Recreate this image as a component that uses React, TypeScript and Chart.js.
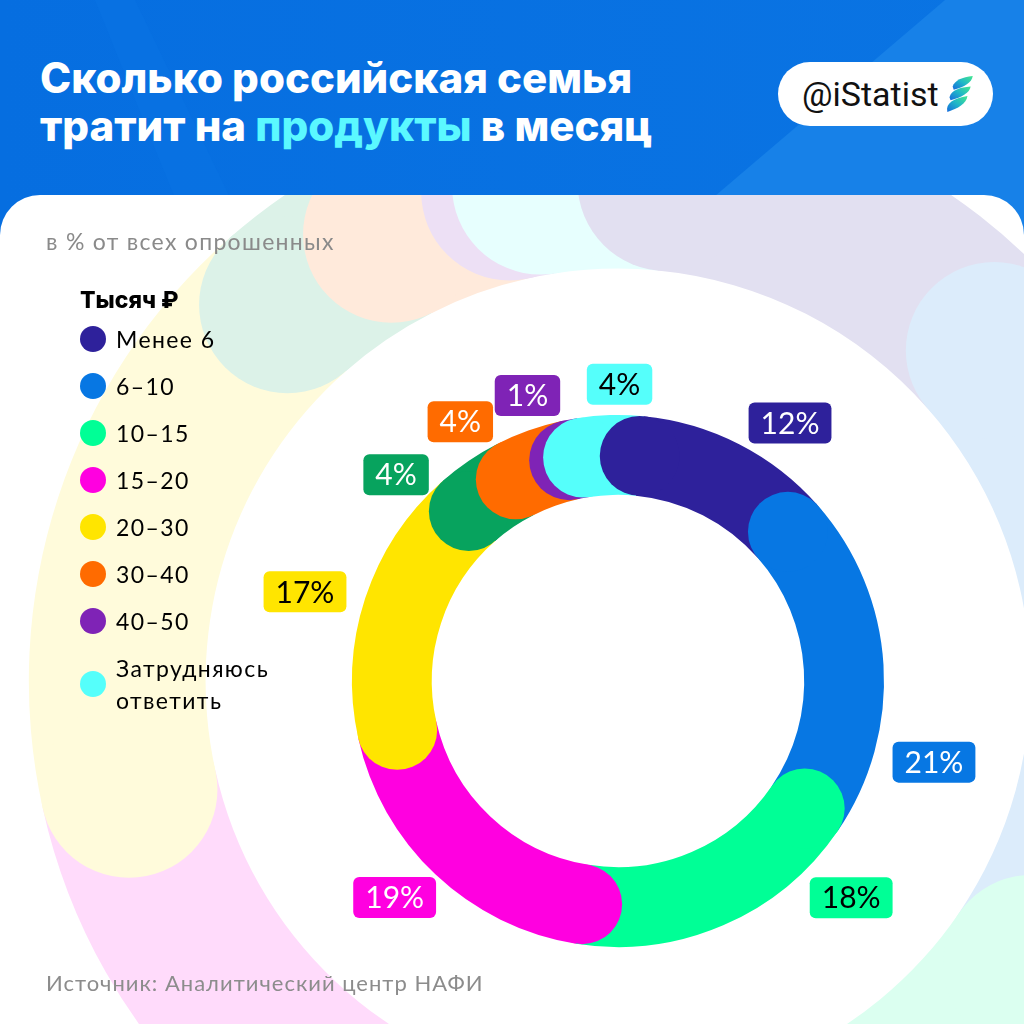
import React, { useEffect, useRef } from 'react';
import { Chart, registerables } from 'chart.js';

Chart.register(...registerables);

// ---- data ----
const CATEGORIES = ['Менее 6', '6–10', '10–15', '15–20', '20–30', 'Более 50', '30–40', '40–50', 'Затрудняюсь ответить'];
const VALUES = [12, 21, 18, 19, 17, 4, 4, 1, 4];
const LEGEND_VISIBLE = [true, true, true, true, true, false, true, true, true];
const LEGEND_TITLE = 'Тысяч ₽';

// ---- styles ----
const COLORS = ['#2E219B', '#0777E3', '#00FF96', '#FF00E0', '#FFE500', '#07A35E', '#FF6B00', '#7F23B6', '#55FFFB'];
const LABEL_TEXT_COLORS = ['#ffffff', '#ffffff', '#000000', '#ffffff', '#000000', '#ffffff', '#ffffff', '#ffffff', '#000000'];
const LABEL_ANGLE_NUDGE = [6.6, 17.9, -23.8, 2.6, -2.2, -13, -11.6, -6.9, 2.0];
const LABEL_GAP = [4, 15, 8, 1, 14, -1, 3, 4, 10];
const BG_RING_SCALE = 2.215;
const BG_TINT = 0.14;
const CARD_TOP = 195;

const LABEL_FONT = '400 30px Lato';
const BODY_FONT = 'Lato, "Noto Sans", sans-serif';

function tint(hex: string, a: number) {
  const n = parseInt(hex.slice(1), 16);
  const r = (n >> 16) & 255, g = (n >> 8) & 255, b = n & 255;
  const m = (c: number) => Math.round(255 - a * (255 - c));
  return `rgb(${m(r)},${m(g)},${m(b)})`;
}

function getArcs(chart: any) {
  const meta = chart.getDatasetMeta(0);
  return meta.data.map((el: any) =>
    el.getProps(['x', 'y', 'startAngle', 'endAngle', 'innerRadius', 'outerRadius'], true)
  );
}

function capOrder(n: number) {
  const order: number[] = [];
  for (let i = 1; i < n; i++) order.push(i);
  order.push(0);
  return order;
}

function drawCaps(ctx: CanvasRenderingContext2D, arcs: any[], scale: number, color: (i: number) => string) {
  capOrder(arcs.length).forEach((i) => {
    const a = arcs[i];
    const inner = a.innerRadius * scale;
    const outer = a.outerRadius * scale;
    const mid = (inner + outer) / 2;
    const rad = (outer - inner) / 2;
    ctx.beginPath();
    ctx.arc(a.x + Math.cos(a.startAngle) * mid, a.y + Math.sin(a.startAngle) * mid, rad, 0, Math.PI * 2);
    ctx.fillStyle = color(i);
    ctx.fill();
  });
}

const bgRingPlugin = {
  id: 'bgRing',
  beforeDatasetsDraw(chart: any) {
    const ctx: CanvasRenderingContext2D = chart.ctx;
    const arcs = getArcs(chart);
    ctx.save();
    ctx.beginPath();
    (ctx as any).roundRect(0, CARD_TOP, chart.width, chart.height - CARD_TOP + 60, [40, 40, 0, 0]);
    ctx.clip();
    const col = (i: number) => tint(COLORS[i], BG_TINT);
    arcs.forEach((a: any, i: number) => {
      const inner = a.innerRadius * BG_RING_SCALE;
      const outer = a.outerRadius * BG_RING_SCALE;
      ctx.beginPath();
      ctx.arc(a.x, a.y, outer, a.startAngle, a.endAngle);
      ctx.arc(a.x, a.y, inner, a.endAngle, a.startAngle, true);
      ctx.closePath();
      ctx.fillStyle = col(i);
      ctx.fill();
    });
    drawCaps(ctx, arcs, BG_RING_SCALE, col);
    ctx.restore();
  },
};

const capsPlugin = {
  id: 'roundCaps',
  afterDatasetsDraw(chart: any) {
    const ctx: CanvasRenderingContext2D = chart.ctx;
    const arcs = getArcs(chart);
    ctx.save();
    drawCaps(ctx, arcs, 1, (i) => COLORS[i]);
    ctx.restore();
  },
};

const labelsPlugin = {
  id: 'boxLabels',
  afterDraw(chart: any) {
    const ctx: CanvasRenderingContext2D = chart.ctx;
    const arcs = getArcs(chart);
    const values = chart.data.datasets[0].data as number[];
    ctx.save();
    ctx.font = LABEL_FONT;
    ctx.textAlign = 'center';
    ctx.textBaseline = 'middle';
    arcs.forEach((a: any, i: number) => {
      const text = `${values[i]}%`;
      const ang = (a.startAngle + a.endAngle) / 2 + (LABEL_ANGLE_NUDGE[i] * Math.PI) / 180;
      const ux = Math.cos(ang), uy = Math.sin(ang);
      const tw = ctx.measureText(text).width;
      const hw = tw / 2 + 12;
      const hh = 20.5;
      const d = a.outerRadius + LABEL_GAP[i] + Math.abs(ux) * hw + Math.abs(uy) * hh;
      const cx = a.x + ux * d;
      const cy = a.y + uy * d;
      ctx.beginPath();
      (ctx as any).roundRect(cx - hw, cy - hh, hw * 2, hh * 2, 6);
      ctx.fillStyle = COLORS[i];
      ctx.fill();
      ctx.fillStyle = LABEL_TEXT_COLORS[i];
      ctx.fillText(text, cx, cy + 1);
    });
    ctx.restore();
  },
};

function Logo() {
  return (
    <svg width="30" height="36" viewBox="0 0 28 34" style={{ position: 'absolute', left: 944, top: 76 }}>
      <defs>
        <linearGradient id="lg" x1="1" y1="0" x2="0" y2="1">
          <stop offset="0" stopColor="#45E88E" />
          <stop offset="0.5" stopColor="#1FB6C8" />
          <stop offset="1" stopColor="#1669DE" />
        </linearGradient>
      </defs>
      <path d="M8 10 C10 4 17 1 27 0 C26 6 20 10 9 13 Z" fill="url(#lg)" />
      <path d="M5 20 C7 13 15 11 25 10 C24 16 17 20 6 23 Z" fill="url(#lg)" />
      <path d="M3 34 C1 26 9 21 22 19 C21 26 13 31 3 34 Z" fill="url(#lg)" />
    </svg>
  );
}

export default function App() {
  const ref = useRef<HTMLCanvasElement>(null);

  useEffect(() => {
    const chart = new Chart(ref.current as HTMLCanvasElement, {
      type: 'doughnut',
      data: {
        labels: CATEGORIES,
        datasets: [{ data: VALUES, backgroundColor: COLORS, borderWidth: 0, hoverOffset: 0 }],
      },
      options: {
        responsive: false,
        animation: false,
        rotation: 5.5,
        cutout: '70%',
        events: [],
        layout: { padding: { left: 352, top: 415, right: 140, bottom: 77 } },
        plugins: { legend: { display: false }, tooltip: { enabled: false } },
      } as any,
      plugins: [bgRingPlugin, capsPlugin, labelsPlugin],
    });
    return () => chart.destroy();
  }, []);

  const legendItems = CATEGORIES.map((c, i) => ({ c, i })).filter((x) => LEGEND_VISIBLE[x.i]);

  return (
    <div style={{ position: 'absolute', left: 0, top: 0, width: 1024, height: 1024, overflow: 'hidden', background: '#fff' }}>
      {/* header */}
      <div
        style={{
          position: 'absolute', left: 0, top: 0, width: 1024, height: 260,
          background: 'linear-gradient(90deg, #066EE0 0%, #0A74E3 100%)',
        }}
      />
      <svg width="1024" height="260" style={{ position: 'absolute', left: 0, top: 0 }}>
        <polygon points="945,0 1024,0 1024,260 640,260" fill="#1781E8" />
        <polygon points="95,0 135,0 260,260 200,260" fill="#0A73E3" opacity="0.6" />
      </svg>
      <div style={{ position: 'absolute', left: 40, top: 57, color: '#fff', fontFamily: 'Inter, sans-serif', fontWeight: 800, fontSize: 42, lineHeight: '42px', whiteSpace: 'nowrap', letterSpacing: 0 }}>
        Сколько российская семья
      </div>
      <div style={{ position: 'absolute', left: 40, top: 105, color: '#fff', fontFamily: 'Inter, sans-serif', fontWeight: 800, fontSize: 42, lineHeight: '42px', whiteSpace: 'nowrap', letterSpacing: 0 }}>
        тратит на <span style={{ color: '#5BF8FF' }}>продукты</span> в месяц
      </div>
      {/* badge */}
      <div style={{ position: 'absolute', left: 778, top: 62, width: 215, height: 64, borderRadius: 32, background: '#fff' }} />
      <div style={{ position: 'absolute', left: 802, top: 74, fontFamily: 'Roboto, sans-serif', fontSize: 34, lineHeight: '40px', color: '#111', whiteSpace: 'nowrap' }}>
        @iStatist
      </div>
      <Logo />
      {/* card */}
      <div style={{ position: 'absolute', left: 0, top: CARD_TOP, width: 1024, height: 900, borderRadius: '40px 40px 0 0', background: '#fff' }} />
      <canvas ref={ref} width={1024} height={1024} style={{ position: 'absolute', left: 0, top: 0, width: 1024, height: 1024 }} />
      {/* subtitle */}
      <div style={{ position: 'absolute', left: 46, top: 227, fontFamily: BODY_FONT, fontSize: 23, lineHeight: '28px', color: '#8A8A8A', whiteSpace: 'nowrap', letterSpacing: 1.3 }}>
        в % от всех опрошенных
      </div>
      {/* legend */}
      <div style={{ position: 'absolute', left: 80, top: 285, fontFamily: 'Inter, sans-serif', fontWeight: 800, fontSize: 23, lineHeight: '30px', color: '#000', whiteSpace: 'nowrap' }}>
        {LEGEND_TITLE}
      </div>
      <div style={{ position: 'absolute', left: 80, top: 323, width: 260 }}>
        {legendItems.map(({ c, i }) => (
          <div key={c} style={{ display: 'flex', alignItems: 'center', marginBottom: 15 }}>
            <div style={{ width: 26, height: 26, borderRadius: 13, background: COLORS[i], flex: '0 0 26px' }} />
            <div style={{ marginLeft: 10, fontFamily: BODY_FONT, fontSize: 23, lineHeight: '32px', color: '#000', maxWidth: 190, letterSpacing: 1.4 }}>{c}</div>
          </div>
        ))}
      </div>
      {/* source */}
      <div style={{ position: 'absolute', left: 46, top: 970, fontFamily: BODY_FONT, fontSize: 22, lineHeight: '26px', color: '#8C8C8C', whiteSpace: 'nowrap', letterSpacing: 1 }}>
        Источник: Аналитический центр НАФИ
      </div>
    </div>
  );
}
